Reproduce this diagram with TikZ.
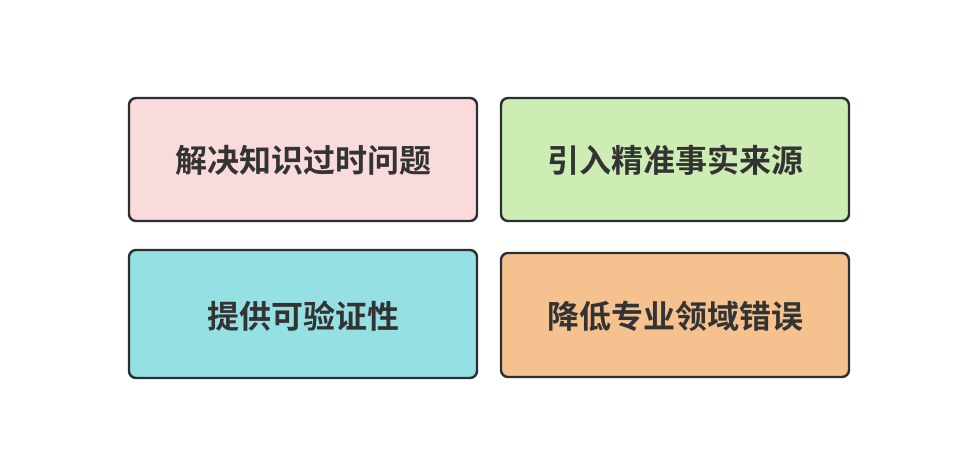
\documentclass[tikz,border=0pt]{standalone}
\usepackage{fontspec}
\newfontfamily\cjk{Noto Sans CJK SC Bold}
\definecolor{bpink}{HTML}{FADBDB}
\definecolor{bgreen}{HTML}{CDEDB5}
\definecolor{bcyan}{HTML}{95E0E3}
\definecolor{borange}{HTML}{F5C28F}
\definecolor{edge}{HTML}{2B2F33}
\definecolor{txt}{HTML}{333333}
\begin{document}
\begin{tikzpicture}[x=1pt,y=-1pt,
  card/.style={draw=edge,line width=2.4pt,rounded corners=7pt,inner sep=0pt},
  lab/.style={font=\cjk\fontsize{32}{38}\selectfont,text=txt}]
\useasboundingbox (0,0) rectangle (966,474);
\fill[white] (0,0) rectangle (966,474);
\draw[card,fill=bpink] (129,98) rectangle (477,221);
\node[lab] (a) at (303,160.5) {解决知识过时问题};
\draw[card,fill=bgreen] (501,98) rectangle (849,221);
\node[lab] (b) at (675,160.5) {引入精准事实来源};
\draw[card,fill=bcyan] (129,250) rectangle (477,378);
\node[lab] (c) at (303,316) {提供可验证性};
\draw[card,fill=borange] (501,253) rectangle (849,377);
\node[lab] (d) at (675,316) {降低专业领域错误};
\end{tikzpicture}
\end{document}
